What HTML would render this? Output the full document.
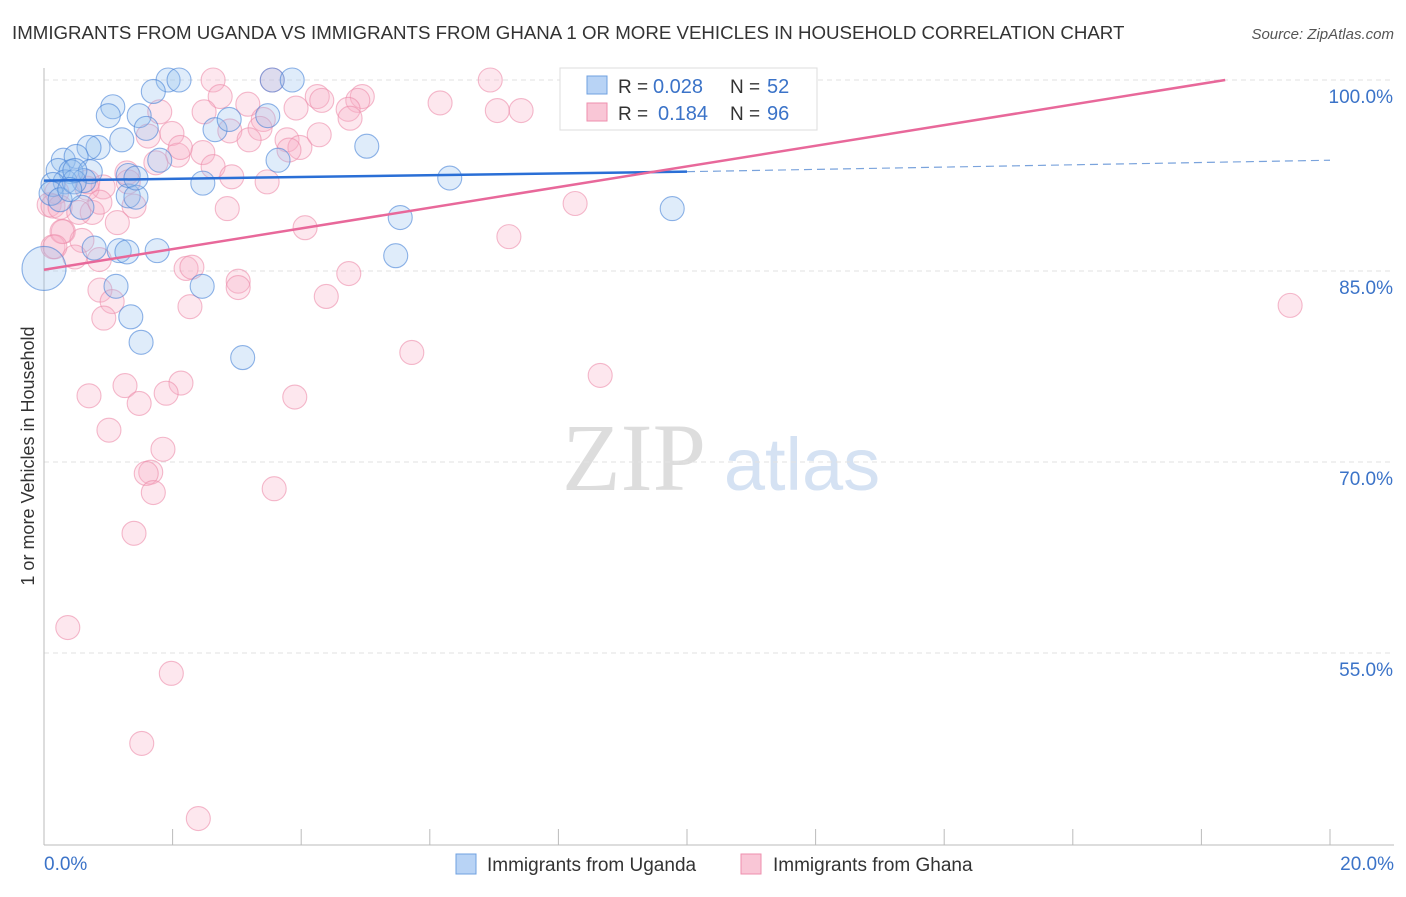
<!DOCTYPE html>
<html><head><meta charset="utf-8"><style>
body{margin:0;background:#fff;font-family:"Liberation Sans",sans-serif}
</style></head><body>
<svg id="c" width="1406" height="892" xmlns="http://www.w3.org/2000/svg" font-family="Liberation Sans, sans-serif">
<text x="12" y="39" font-size="18.7" fill="#333">IMMIGRANTS FROM UGANDA VS IMMIGRANTS FROM GHANA 1 OR MORE VEHICLES IN HOUSEHOLD CORRELATION CHART</text>
<text x="1394" y="39" font-size="15" fill="#555" font-style="italic" text-anchor="end">Source: ZipAtlas.com</text>
<text x="634" y="490" font-size="96" fill="#ddd" font-family="Liberation Serif, serif" text-anchor="middle">ZIP</text>
<text x="802" y="490" font-size="74" fill="#d5e2f3" text-anchor="middle">atlas</text>
<g id="grid"></g><g id="axes"></g><g id="pts"></g><g id="trend"></g>
<text transform="translate(34,456) rotate(-90)" font-size="18" fill="#333" text-anchor="middle">1 or more Vehicles in Household</text>
<g>
<rect x="560" y="68" width="257" height="62" fill="#fff" stroke="#ddd"/>
<rect x="587" y="76" width="20" height="18" fill="#b8d3f5" stroke="#6fa0e0"/>
<rect x="587" y="103" width="20" height="18" fill="#f9c6d6" stroke="#ee8fae"/>
<text x="618" y="93" font-size="19" fill="#333">R =</text>
<text x="653" y="93" font-size="20" fill="#3b73c8">0.028</text>
<text x="730" y="93" font-size="19" fill="#333">N =</text>
<text x="767" y="93" font-size="20" fill="#3b73c8">52</text>
<text x="618" y="120" font-size="19" fill="#333">R =</text>
<text x="658" y="120" font-size="20" fill="#3b73c8">0.184</text>
<text x="730" y="120" font-size="19" fill="#333">N =</text>
<text x="767" y="120" font-size="20" fill="#3b73c8">96</text>
</g>
<g>
<rect x="456" y="854" width="20" height="20" fill="#b8d3f5" stroke="#6fa0e0"/>
<text x="487" y="871" font-size="19" fill="#333">Immigrants from Uganda</text>
<rect x="741" y="854" width="20" height="20" fill="#f9c6d6" stroke="#ee8fae"/>
<text x="773" y="871" font-size="19" fill="#333">Immigrants from Ghana</text>
</g>
</svg>
<script>
const yTicks=[100,85,70,55];
const yTickLabels=["100.0%","85.0%","70.0%","55.0%"];
const xTickLabels=["0.0%","20.0%"];
const ugX=[1.93,2.10,3.55,3.86,1.70,1.07,1.00,1.48,3.48,1.59,2.66,2.88,1.21,5.02,0.84,0.70,0.30,0.50,3.64,1.80,0.22,0.42,0.72,0.62,0.33,0.14,2.47,6.31,0.11,1.31,1.43,0.59,0.25,5.54,9.77,0.78,1.17,1.29,1.76,5.47,1.12,2.46,1.35,1.51,3.09,0.47,1.31,0.48,0.40,1.43,0.0];
const ugY=[100,100,100,100,99.1,97.9,97.2,97.2,97.2,96.2,96.1,96.9,95.3,94.8,94.7,94.7,93.7,94.0,93.7,93.7,92.9,92.8,92.8,92.1,92.0,91.8,91.9,92.3,91.1,90.9,90.8,90.0,90.6,89.2,89.9,86.8,86.6,86.5,86.6,86.2,83.8,83.8,81.4,79.4,78.2,92.0,92.5,92.9,91.4,92.3,85.2];
const ghX=[2.63,3.55,6.94,9.18,6.16,7.05,7.42,4.25,4.95,4.88,3.92,4.32,4.73,4.76,1.80,2.74,2.49,3.17,3.41,3.36,2.89,3.19,3.78,3.98,3.81,4.28,1.99,1.62,2.47,2.08,1.74,2.63,2.92,1.29,1.31,0.92,0.67,3.47,0.20,0.08,0.14,0.25,1.40,2.85,0.75,0.54,1.14,4.06,8.26,7.23,0.30,0.14,0.59,0.48,0.86,2.21,2.30,3.02,3.02,4.74,4.39,0.87,1.06,0.93,2.27,19.38,5.72,8.65,1.26,2.13,0.70,1.90,1.48,3.90,1.01,1.85,1.66,1.59,1.70,3.58,1.40,0.37,1.98,1.52,2.40,0.68,0.28,0.17,2.12,0.87];
const ghY=[100,100,100,99.8,98.2,97.6,97.6,98.7,98.7,98.4,97.8,98.4,97.7,97.0,97.5,98.7,97.5,98.1,96.9,96.2,96.0,95.3,95.3,94.7,94.5,95.7,95.8,95.6,94.3,94.1,93.5,93.2,92.4,92.7,92.0,91.6,91.5,92.0,91.2,90.2,90.1,90.0,90.1,89.9,89.6,89.6,88.8,88.4,90.3,87.7,88.1,86.9,87.4,86.1,85.9,85.2,85.3,84.2,83.7,84.8,83.0,83.5,82.6,81.3,82.2,82.3,78.6,76.8,76.0,76.2,75.2,75.4,74.6,75.1,72.5,71.0,69.2,69.1,67.6,67.9,64.4,57.0,53.4,47.9,42.0,92.0,88.1,86.9,94.7,90.4];
const ugTrend=[92.1,92.8,93.7];
const ghTrend=[85.1,100];
const ghTrendX=[0,18.37];
const NS="http://www.w3.org/2000/svg";
const X=v=>44+v/20*1286, Y=v=>80+(100-v)*12.733;
function mk(t,a,p){const e=document.createElementNS(NS,t);for(const k in a)e.setAttribute(k,a[k]);p.appendChild(e);return e;}
const grid=document.getElementById('grid'),axes=document.getElementById('axes'),pts=document.getElementById('pts'),tr=document.getElementById('trend');
yTicks.forEach((v,i)=>{
 const l=mk('line',{x1:44,x2:1394,y1:Y(v),y2:Y(v),stroke:'#e2e2e2','stroke-dasharray':'5,4'},grid);
 
 
 const t=mk('text',{x:1393,y:Y(v)+23,'font-size':19,fill:'#3b73c8','text-anchor':'end'},grid);
 t.textContent=yTickLabels[i];
 
 
});
const ax=mk('line',{x1:44,x2:44,y1:68,y2:845,stroke:'#bbb'},axes);


const bx=mk('line',{x1:44,x2:1394,y1:845,y2:845,stroke:'#bbb'},axes);


for(let i=0;i<=10;i++){const t=mk('line',{x1:X(i*2),x2:X(i*2),y1:829,y2:845,stroke:'#bbb'},axes);
 
 }
[[0,'start',44],[1,'end',1394]].forEach(([i,a,x])=>{const t=mk('text',{x:x,y:870,'font-size':19,fill:'#3b73c8','text-anchor':a},axes);t.textContent=xTickLabels[i];
 
 });
ghX.forEach((v,i)=>{const c=mk('circle',{cx:X(v),cy:Y(ghY[i]),r:12,fill:'rgba(248,175,198,0.3)',stroke:'rgba(236,140,170,0.6)','stroke-width':1.1},pts);
 
 });
ugX.forEach((v,i)=>{const c=mk('circle',{cx:X(v),cy:Y(ugY[i]),r:i===ugX.length-1?22:12,fill:'rgba(150,192,240,0.3)',stroke:'rgba(70,130,215,0.6)','stroke-width':1.1},pts);
 
 });
let l=mk('line',{x1:X(0),y1:Y(ugTrend[0]),x2:X(10),y2:Y(ugTrend[1]),stroke:'#2a6fd6','stroke-width':2.5},tr);


l=mk('line',{x1:X(10),y1:Y(ugTrend[1]),x2:X(20),y2:Y(ugTrend[2]),stroke:'#7aa3dc','stroke-width':1.2,'stroke-dasharray':'8,5'},tr);


l=mk('line',{x1:X(ghTrendX[0]),y1:Y(ghTrend[0]),x2:X(ghTrendX[1]),y2:Y(ghTrend[1]),stroke:'#e8689a','stroke-width':2.5},tr);


</script>
</body></html>
